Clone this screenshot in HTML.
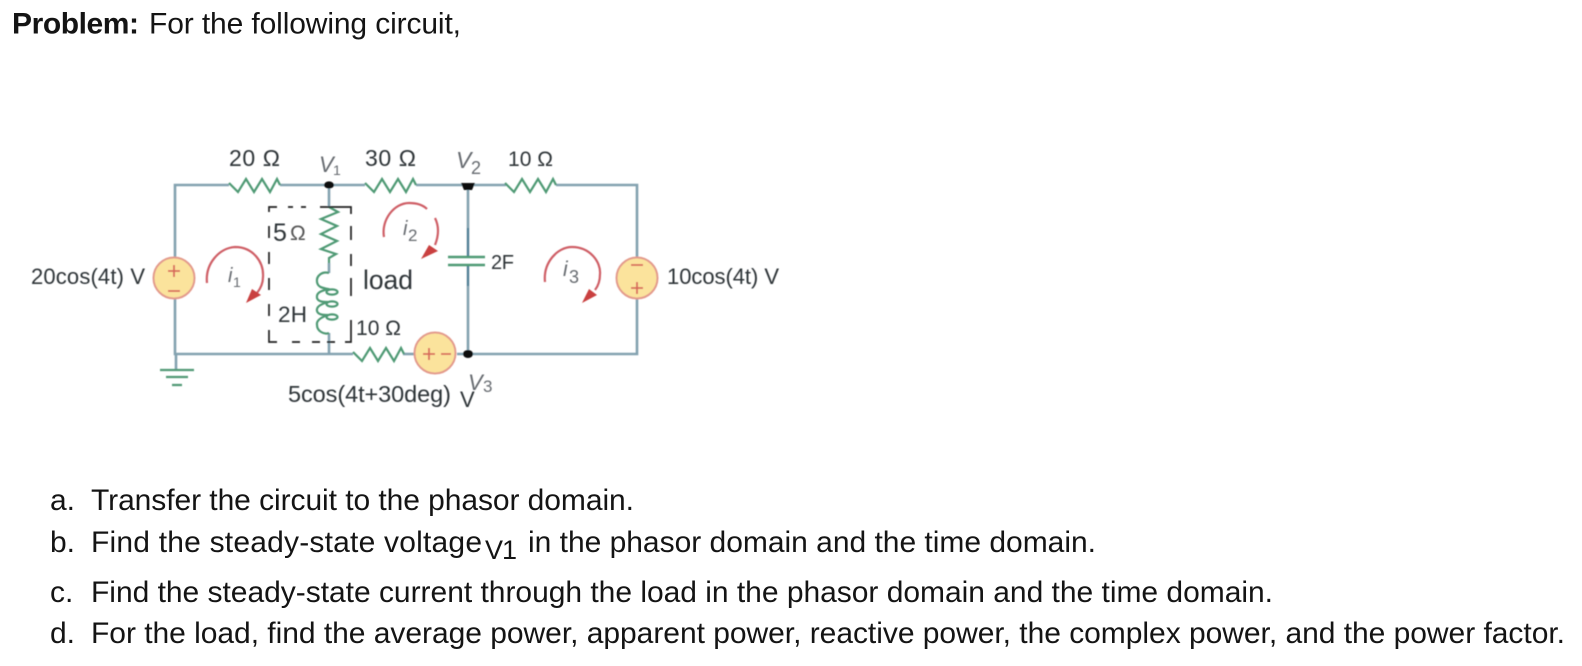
<!DOCTYPE html>
<html>
<head>
<meta charset="utf-8">
<style>
html,body{margin:0;padding:0;background:#fff;width:1582px;height:666px;overflow:hidden}
svg{display:block}
.t{font-family:"Liberation Sans",sans-serif;font-size:30px;fill:#141414}
.c{font-family:"Liberation Sans","DejaVu Sans",sans-serif;fill:#2f3438}
.i{font-family:"Liberation Sans",sans-serif;fill:#666b70}
.it{font-style:italic}
.w{fill:none;stroke:#83a2b0;stroke-width:2.6}
.g{fill:none;stroke:#4f9a74;stroke-width:2.2}
.l{fill:none;stroke:#cf5f66;stroke-width:2.2}
.s{fill:#fbe39c;stroke:#e39a8c;stroke-width:2}
.m{stroke:#d8675a;stroke-width:1.8;fill:none}
.d{fill:none;stroke:#222;stroke-width:1.7}
</style>
</head>
<body>
<svg width="1582" height="666" viewBox="0 0 1582 666" xmlns="http://www.w3.org/2000/svg">
<defs>
<filter id="b" x="-5%" y="-5%" width="110%" height="110%"><feGaussianBlur stdDeviation="0.6"/></filter>
<polyline id="r" points="0,-2 9,7 17,-6 25,7 33,-6 41,7 48,-6 51,0"/>
</defs>

<text class="t" x="12" y="33.5" font-weight="bold" textLength="127" lengthAdjust="spacing">Problem:</text>
<text class="t" x="149" y="33.5" textLength="312" lengthAdjust="spacing">For the following circuit,</text>

<text class="t" x="50" y="510">a.</text>
<text class="t" x="91" y="510" textLength="543" lengthAdjust="spacing">Transfer the circuit to the phasor domain.</text>
<text class="t" x="50" y="552">b.</text>
<text class="t" x="91" y="552" textLength="391" lengthAdjust="spacing">Find the steady-state voltage</text>
<text class="t" x="485" y="559" style="font-size:27px" textLength="32" lengthAdjust="spacing">V1</text>
<text class="t" x="528" y="552" textLength="568" lengthAdjust="spacing">in the phasor domain and the time domain.</text>
<text class="t" x="50" y="602">c.</text>
<text class="t" x="91" y="602" textLength="1182" lengthAdjust="spacing">Find the steady-state current through the load in the phasor domain and the time domain.</text>
<text class="t" x="50" y="643">d.</text>
<text class="t" x="91" y="643" textLength="1474" lengthAdjust="spacing">For the load, find the average power, apparent power, reactive power, the complex power, and the power factor.</text>

<g filter="url(#b)">
  <!-- wires -->
  <path class="w" d="M175 257V185H229M280 185H365M416 185H506M556 185H637V257"/>
  <path class="w" d="M175 299V354H353M457 354H637V299"/>
  <path class="w" d="M329 185V207M329 263V273M329 333V354"/>
  <path class="w" d="M468 185V257M468 265V354"/>
  <path d="M468 228V257M468 265V286" stroke="#4f7f95" stroke-width="2" fill="none"/>
  <path class="w" d="M403 354H414"/>

  <!-- resistors -->
  <use href="#r" x="229" y="185" class="g"/>
  <use href="#r" x="365" y="185" class="g"/>
  <use href="#r" x="505" y="185" class="g"/>
  <use href="#r" x="353" y="354" class="g"/>
  <polyline class="g" points="329,207 338,212 321,219 337,226 321,234 337,241 321,249 336,254 329,258 329,263"/>
  <path class="g" d="M329 273C322 271 316 276 317 282C318 288 324 288 328 289C322 291 316 292 317 298C318 302 324 302 328 302C322 304 316 306 317 311C318 315 324 315 328 315C322 317 316 320 317 325C317 331 324 335 329 333"/>
  <ellipse class="g" cx="332" cy="292" rx="5.5" ry="2.6"/>
  <ellipse class="g" cx="332" cy="304" rx="5.5" ry="2.6"/>
  <ellipse class="g" cx="332" cy="317" rx="5.5" ry="2.6"/>

  <!-- capacitor -->
  <path class="g" style="stroke-width:2.4" d="M448 257H485M448 265H485"/>

  <!-- ground -->
  <path class="w" d="M176 354V370"/>
  <path class="g" d="M160 370H194M166 377H188M172 385H182"/>

  <!-- nodes -->
  <ellipse cx="329" cy="185" rx="5" ry="3.6" fill="#111"/>
  <path d="M461 183H475L472 190H464Z" fill="#111"/>
  <ellipse cx="468" cy="354" rx="5" ry="4" fill="#111"/>

  <!-- dashed load box -->
  <path class="d" d="M269 212V207H277M288 207H293M301 207H306M320 207H351V214"/>
  <path class="d" d="M269 226V238M269 252V264M269 278V290M269 304V316M269 330V342H277"/>
  <path class="d" d="M292 342H300M312 342H320M327 342H335"/>
  <path class="d" d="M351 226V240M351 254V266M351 278V296M351 320V342H345"/>

  <!-- sources -->
  <circle class="s" cx="174" cy="278" r="20.5"/>
  <path class="m" d="M174 265V277M168 271H180M168 291H180"/>
  <circle class="s" cx="637" cy="278" r="20.5"/>
  <path class="m" d="M631 265H643M637 282V294M631 288H643"/>
  <circle class="s" cx="435" cy="353" r="20.5"/>
  <path class="m" d="M423 354H435M429 348V360M441 354H451"/>

  <!-- loops -->
  <path class="l" d="M207 283C205 264 219 248 235 247C253 247 264 262 263 277C263 283 261 288 257 293"/>
  <path d="M246 303L252 289L261 295Z" fill="#c9403f"/>
  <path class="l" d="M384 237C381 220 394 203 409 203C416 203 423 205 427 209"/>
  <path class="l" d="M435 218C439 226 439 235 435 245"/>
  <path d="M421 259L429 245L438 251Z" fill="#c9403f"/>
  <path class="l" d="M545 282C543 263 557 247 572 247C590 247 601 262 600 274C600 280 599 285 595 290"/>
  <path d="M582 303L589 289L597 295Z" fill="#c9403f"/>

  <!-- labels -->
  <text class="c" x="229" y="166" style="font-size:23px" textLength="51" lengthAdjust="spacing">20 Ω</text>
  <text class="c" x="365" y="166" style="font-size:23px" textLength="51" lengthAdjust="spacing">30 Ω</text>
  <text class="c" x="508" y="166" style="font-size:21px" textLength="45" lengthAdjust="spacing">10 Ω</text>
  <text class="i it" x="319" y="172" style="font-size:22px">V</text>
  <text class="i" x="333" y="175" style="font-size:14px">1</text>
  <text class="i it" x="456" y="168" style="font-size:23px">V</text>
  <text class="i" x="471" y="174" style="font-size:18px">2</text>
  <text class="i it" x="468" y="390" style="font-size:22px">V</text>
  <text class="i" x="483" y="392" style="font-size:17px">3</text>
  <text class="c" x="273" y="241" style="font-size:25px">5</text>
  <text class="c" x="290" y="240" style="font-size:21px;fill:#555">Ω</text>
  <text class="c" x="278" y="322" style="font-size:22.5px" textLength="29" lengthAdjust="spacing">2H</text>
  <text class="c" x="363" y="289" style="font-size:26.5px" textLength="50" lengthAdjust="spacing">load</text>
  <text class="c" x="356" y="335" style="font-size:21px" textLength="45" lengthAdjust="spacing">10 Ω</text>
  <text class="c" x="288" y="402" style="font-size:23.5px" textLength="163" lengthAdjust="spacing">5cos(4t+30deg)</text>
  <text class="c" x="460" y="407" style="font-size:22px">V</text>
  <text class="c" x="31" y="284" style="font-size:22px" textLength="114" lengthAdjust="spacing">20cos(4t) V</text>
  <text class="c" x="667" y="284" style="font-size:22px" textLength="112" lengthAdjust="spacing">10cos(4t) V</text>
  <text class="c" x="491" y="269" style="font-size:20px" textLength="23" lengthAdjust="spacing">2F</text>
  <text class="i it" x="228" y="282" style="font-size:20px">i</text>
  <text class="i" x="233" y="287" style="font-size:14px">1</text>
  <text class="i it" x="403" y="235" style="font-size:20px">i</text>
  <text class="i" x="408" y="241" style="font-size:17px">2</text>
  <text class="i it" x="563" y="276" style="font-size:21px">i</text>
  <text class="i" x="569" y="283" style="font-size:18px">3</text>
</g>
</svg>
</body>
</html>
